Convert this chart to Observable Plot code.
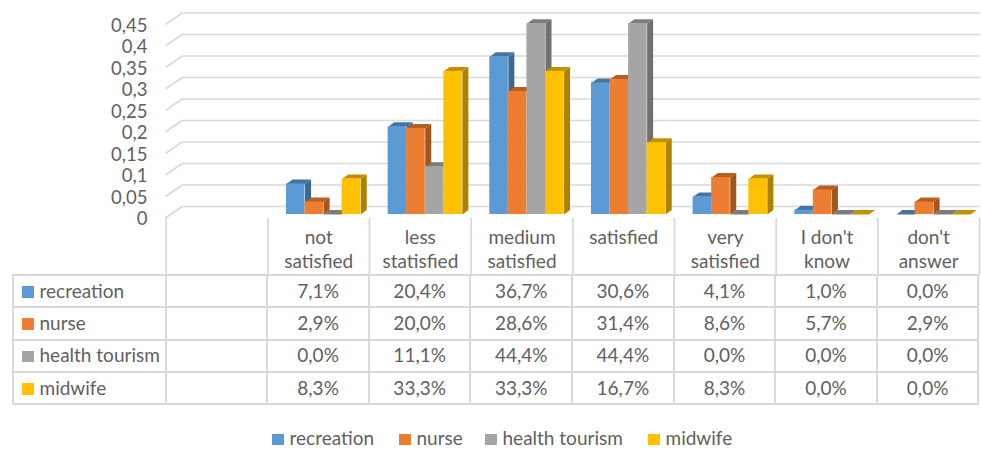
<!DOCTYPE html>
<html>
<head>
<meta charset="utf-8">
<script src="https://cdn.jsdelivr.net/npm/d3@7"></script>
<script src="https://cdn.jsdelivr.net/npm/@observablehq/plot@0.6"></script>
<style>
html,body{margin:0;padding:0;background:#fff;width:981px;height:449px;overflow:hidden;font-family:Lato,sans-serif;color:#5f5f5f}
#chart{position:absolute;left:0;top:0}
#table{position:absolute;left:12px;top:274px;border-collapse:collapse;table-layout:fixed;font-size:19px}
#table td{border:2px solid #d9d9d9;padding:0 0 2px 0;height:28.3px;text-align:center;box-sizing:content-box;white-space:nowrap}
#table td.name{text-align:left;padding-left:8px}
.sw{display:inline-block;width:11.5px;height:11.5px;margin-right:6px}
#legend{position:absolute;top:428px;left:272px;font-size:19px;white-space:nowrap;line-height:20px}
#legend span.item{position:absolute;top:0}
</style>
</head>
<body>
<div id="chart"></div>
<table id="table"></table>
<div id="legend"></div>
<script>
const categories = ["not\nsatisfied","less\nstatisfied","medium\nsatisfied","satisfied","very\nsatisfied","I don't\nknow","don't\nanswer"];
const seriesNames = ["recreation","nurse","health tourism","midwife"];
const recreation = [7.1,20.4,36.7,30.6,4.1,1.0,0.0];
const nurse = [2.9,20.0,28.6,31.4,8.6,5.7,2.9];
const healthTourism = [0.0,11.1,44.4,44.4,0.0,0.0,0.0];
const midwife = [8.3,33.3,33.3,16.7,8.3,0.0,0.0];
const seriesValues = [recreation,nurse,healthTourism,midwife];
const frontColors = ["#5B9BD5","#ED7D31","#A5A5A5","#FFC000"];
const sideColors = ["#3D6A92","#A1551F","#707070","#AD8200"];
const topColors = ["#44749F","#B65E24","#7C7C7C","#C09000"];
const yTicks = [0,0.05,0.1,0.15,0.2,0.25,0.3,0.35,0.4,0.45];
const legendOffsets = [0,127,213,376];

const comma = t => String(t).replace(".",",");
const pct = v => v.toFixed(1).replace(".",",") + "%";

// depth of the floor and of the bars, in scale units
const wallX = 16/101.6, wallY = 11/429;
const baseY = 3/429;
const depthX = 6/101.6, depthY = 4.4/429;
const barStart = 18.6/101.6, barW = 18.55/101.6;

const gridPts = yTicks.flatMap(t => [
  {t, x:0, y:t},
  {t, x:wallX, y:t+wallY},
  {t, x:8, y:t+wallY}
]);

const marks = [
  Plot.line(gridPts,{x:"x",y:"y",z:"t",stroke:"#d9d9d9",strokeWidth:1.6}),
  Plot.ruleX(d3.range(1,9),{x:d=>d,y1:-0.002,y2:-0.134,stroke:"#d9d9d9",strokeWidth:1.8}),
  Plot.ruleX([0],{x:d=>d,y1:0,y2:-0.134,stroke:"#d9d9d9",strokeWidth:1.8}),
  Plot.axisY({ticks:yTicks,tickFormat:comma,anchor:"left",tickSize:0,tickPadding:18.7,dy:2,fontSize:18.5,color:"#5f5f5f",fontFamily:"Lato",label:null})
];

seriesValues.forEach((vals,s)=>{
  const rows = vals.map((v,i)=>{
    const x1 = i+1+barStart+s*barW, x2 = x1+barW;
    return {i,x1,x2,y0:baseY,y1:v/100+baseY};
  });
  const side = rows.flatMap(r=>[
    {i:r.i,x:r.x2,y:r.y0},{i:r.i,x:r.x2+depthX,y:r.y0+depthY},
    {i:r.i,x:r.x2+depthX,y:r.y1+depthY},{i:r.i,x:r.x2,y:r.y1}
  ]);
  const top = rows.flatMap(r=>[
    {i:r.i,x:r.x1,y:r.y1},{i:r.i,x:r.x1+depthX,y:r.y1+depthY},
    {i:r.i,x:r.x2+depthX,y:r.y1+depthY},{i:r.i,x:r.x2,y:r.y1}
  ]);
  marks.push(
    Plot.line(side,{x:"x",y:"y",z:"i",fill:sideColors[s],stroke:"none"}),
    Plot.line(top,{x:"x",y:"y",z:"i",fill:topColors[s],stroke:"none"}),
    Plot.rect(rows,{x1:"x1",x2:"x2",y1:"y0",y2:"y1",fill:frontColors[s]})
  );
});

marks.push(Plot.text(categories,{
  x:(d,i)=>i+1.5, y:()=>0, text:d=>d, dy:9.5, lineAnchor:"top", lineHeight:1.27,
  fontSize:19, fill:"#5f5f5f", fontFamily:"Lato"
}));

const plot = Plot.plot({
  width:981, height:275,
  marginLeft:165.7, marginRight:2, marginTop:23.5, marginBottom:58,
  x:{domain:[0,8],axis:null},
  y:{domain:[0,0.45],axis:null},
  style:{background:"transparent",overflow:"visible"},
  marks
});
document.getElementById("chart").append(plot);

// data table
const table = d3.select("#table");
const colgroup = table.append("colgroup");
colgroup.append("col").style("width","152.7px");
d3.range(8).forEach(()=>colgroup.append("col").style("width","101.6px"));
seriesNames.forEach((name,s)=>{
  const tr = table.append("tr");
  const td = tr.append("td").attr("class","name");
  td.append("span").attr("class","sw").style("background",frontColors[s]);
  td.append("span").text(name);
  tr.append("td");
  seriesValues[s].forEach(v=>tr.append("td").text(pct(v)));
});

// legend
const legend = d3.select("#legend");
seriesNames.forEach((name,s)=>{
  const it = legend.append("span").attr("class","item").style("left",legendOffsets[s]+"px");
  it.append("span").attr("class","sw").style("background",frontColors[s]);
  it.append("span").text(name);
});
</script>
</body>
</html>
